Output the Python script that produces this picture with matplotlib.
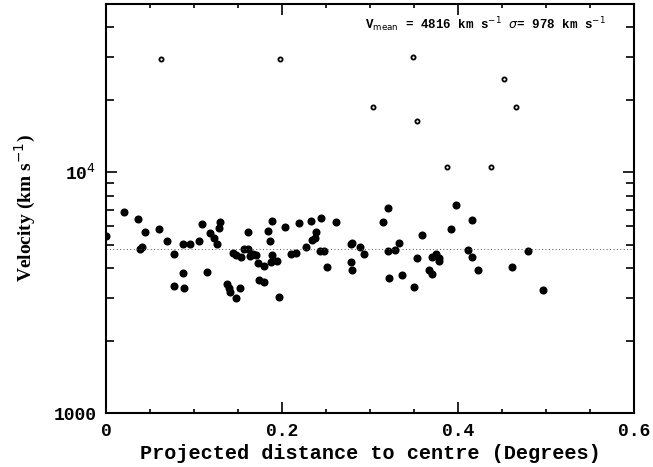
import matplotlib
matplotlib.use("Agg")
import matplotlib.pyplot as plt
import numpy as np
from matplotlib.ticker import FixedLocator, FixedFormatter, NullFormatter

# projected distance (degrees) and velocity (km/s), members
dist = [0.000, 0.021, 0.036, 0.044, 0.041, 0.039, 0.060, 0.069, 0.077, 0.077,
        0.087, 0.087, 0.089, 0.095, 0.106, 0.109, 0.115, 0.118, 0.123, 0.126,
        0.128, 0.130, 0.138, 0.140, 0.141, 0.144, 0.148, 0.148, 0.152, 0.153,
        0.157, 0.161, 0.161, 0.164, 0.167, 0.171, 0.173, 0.174, 0.180, 0.180,
        0.184, 0.186, 0.187, 0.189, 0.189, 0.194, 0.197, 0.203, 0.210, 0.216,
        0.219, 0.227, 0.233, 0.234, 0.237, 0.239, 0.244, 0.243, 0.248, 0.251,
        0.261, 0.278, 0.280, 0.278, 0.280, 0.289, 0.293, 0.321, 0.315, 0.320,
        0.322, 0.328, 0.333, 0.336, 0.350, 0.353, 0.359, 0.367, 0.371, 0.371,
        0.375, 0.378, 0.378, 0.392, 0.398, 0.411, 0.416, 0.416, 0.423, 0.461,
        0.480, 0.497]
vel = [5428, 6832, 6372, 5660, 4902, 4823, 5827, 5173, 4585, 3373,
       5012, 3832, 3296, 5046, 5173, 6089, 3868, 5607, 5344, 5046,
       5843, 6231, 3447, 3296, 3193, 4629, 4523, 3005, 3308, 4437,
       4810, 4810, 5660, 4510, 4585, 4553, 4205, 3558, 4097, 3514,
       5715, 5158, 4229, 6292, 4553, 4298, 3023, 5899, 4598, 4629,
       6141, 4884, 6249, 5223, 5344, 5640, 6476, 4688, 4688, 4047,
       6231, 5046, 5080, 4257, 3943, 4884, 4585, 7127, 6207, 4688,
       3641, 4777, 5061, 3758, 3327, 4412, 5515, 3932, 3795, 4437,
       4585, 4412, 4269, 5804, 7335, 4745, 6328, 4437, 3932, 4031,
       4688, 3233]

# background galaxies
dist_out = [0.0625, 0.198, 0.349, 0.452, 0.303, 0.466, 0.353, 0.387, 0.4375]
vel_out = [29600, 29600, 30200, 24400, 18700, 18600, 16300, 10560, 10500]

v_mean = 4816
sigma = 978

xticks = [0, 0.2, 0.4, 0.6]
xticklabels = ["0", "0.2", "0.4", "0.6"]
yticks = [1000, 10000]
yticklabels = ["1000", "10$^{4}$"]

mono = "Liberation Mono"
serif = "Liberation Serif"

fig = plt.figure(figsize=(6.53, 4.67), dpi=100)
ax = fig.add_axes([0.1623, 0.1156, 0.9709 - 0.1623, 0.9914 - 0.1156])

ax.plot(dist, vel, "o", color="black", ms=4.8, mec="black")
ax.plot(dist_out, vel_out, "o", ms=3.0, mfc="none", mec="black", mew=1.3)
ax.axhline(v_mean, color="#555555", lw=0.7, ls=(0, (1, 2.5)))

ax.set_yscale("log")
ax.set_xlim(0, 0.6)
ax.set_ylim(1000, 50000)

ax.xaxis.set_major_locator(FixedLocator(xticks))
ax.xaxis.set_major_formatter(FixedFormatter(xticklabels))
ax.xaxis.set_minor_locator(FixedLocator(np.arange(0.05, 0.6, 0.05)))
ax.yaxis.set_major_locator(FixedLocator(yticks))
ax.yaxis.set_major_formatter(FixedFormatter(yticklabels))
ax.yaxis.set_minor_locator(FixedLocator([k * 10 ** e for e in (3, 4) for k in range(2, 10) if k * 10 ** e <= 50000]))
ax.yaxis.set_minor_formatter(NullFormatter())

ax.tick_params(which="both", direction="in", top=True, right=True, width=1.2)
ax.tick_params(which="major", length=8, labelsize=13, pad=7)
ax.tick_params(axis="x", which="minor", length=3)
ax.tick_params(axis="y", which="minor", length=5.5)
for lab in ax.get_xticklabels() + ax.get_yticklabels():
    lab.set_fontfamily(mono)
    lab.set_fontweight("bold")
for sp in ax.spines.values():
    sp.set_linewidth(1.5)

ax.set_xlabel("Projected distance to centre (Degrees)", family=mono,
              weight="bold", fontsize=14.5, labelpad=3)
ax.set_ylabel("Velocity (km s$^{-1}$)", family=serif, weight="bold",
              fontsize=14, labelpad=11)

ax.text(0.49, 0.949, "V$_{\\rm mean}$ = %d km s$^{-1}$ $\\sigma$= %d km s$^{-1}$" % (v_mean, sigma),
        transform=ax.transAxes, family=mono, weight="bold", fontsize=9,
        va="center", ha="left")

fig.savefig("out.png", dpi=100)
